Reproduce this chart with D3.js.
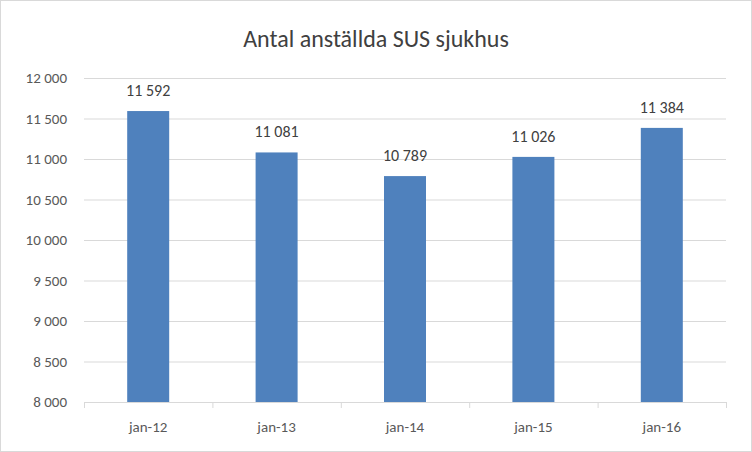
<!DOCTYPE html>
<html><head><meta charset="utf-8">
<script src="https://cdn.jsdelivr.net/npm/d3@7/dist/d3.min.js"></script>
<style>body{margin:0;background:#fff}svg{display:block}</style>
</head><body>
<script>
const categories = ["jan-12","jan-13","jan-14","jan-15","jan-16"];
const values = [11592,11081,10789,11026,11384];
const yTicks = [8000,8500,9000,9500,10000,10500,11000,11500,12000];
const title = "Antal anställda SUS sjukhus";

const W=752,H=452;
const svg=d3.select("body").append("svg").attr("width",W).attr("height",H);
svg.append("rect").attr("x",0.5).attr("y",0.5).attr("width",W-1).attr("height",H-1).attr("fill","#fff").attr("stroke","#d9d9d9");
const fmt=v=>d3.format(",")(v).replace(",","\u00a0");
const x=d3.scaleBand().domain(categories).range([84,726]);
const y=d3.scaleLinear().domain([8000,12000]).range([402,78]);
const font="Calibri, Carlito, 'Liberation Sans', sans-serif";
svg.append("g").selectAll("line").data(yTicks).join("line")
 .attr("x1",84).attr("x2",726).attr("y1",d=>y(d)+0.5).attr("y2",d=>y(d)+0.5).attr("stroke","#d9d9d9");
svg.append("g").selectAll("text").data(yTicks).join("text")
 .attr("x",67).attr("y",d=>y(d)+5).attr("text-anchor","end").attr("font-family",font).attr("font-size",15).attr("fill","#595959").text(fmt);
svg.append("g").selectAll("line").data(categories.concat(["end"])).join("line")
 .attr("x1",(d,i)=>84+i*x.step()+0.5).attr("x2",(d,i)=>84+i*x.step()+0.5).attr("y1",402).attr("y2",408).attr("stroke","#d9d9d9");
const bw=42;
svg.append("g").selectAll("rect").data(values).join("rect")
 .attr("x",(d,i)=>x(categories[i])+x.bandwidth()/2-bw/2).attr("width",bw)
 .attr("y",d=>y(d)).attr("height",d=>402-y(d)).attr("fill","#4f81bd");
svg.append("g").selectAll("text").data(values).join("text")
 .attr("x",(d,i)=>x(categories[i])+x.bandwidth()/2).attr("y",d=>y(d)-15).attr("text-anchor","middle")
 .attr("font-family",font).attr("font-size",16).attr("fill","#404040").text(fmt);
svg.append("g").selectAll("text").data(categories).join("text")
 .attr("x",d=>x(d)+x.bandwidth()/2).attr("y",432).attr("text-anchor","middle")
 .attr("font-family",font).attr("font-size",15).attr("fill","#595959").text(d=>d);
svg.append("text").attr("x",376).attr("y",47).attr("text-anchor","middle").attr("font-family",font).attr("font-size",24).attr("fill","#404040").text(title);
</script>
</body></html>
